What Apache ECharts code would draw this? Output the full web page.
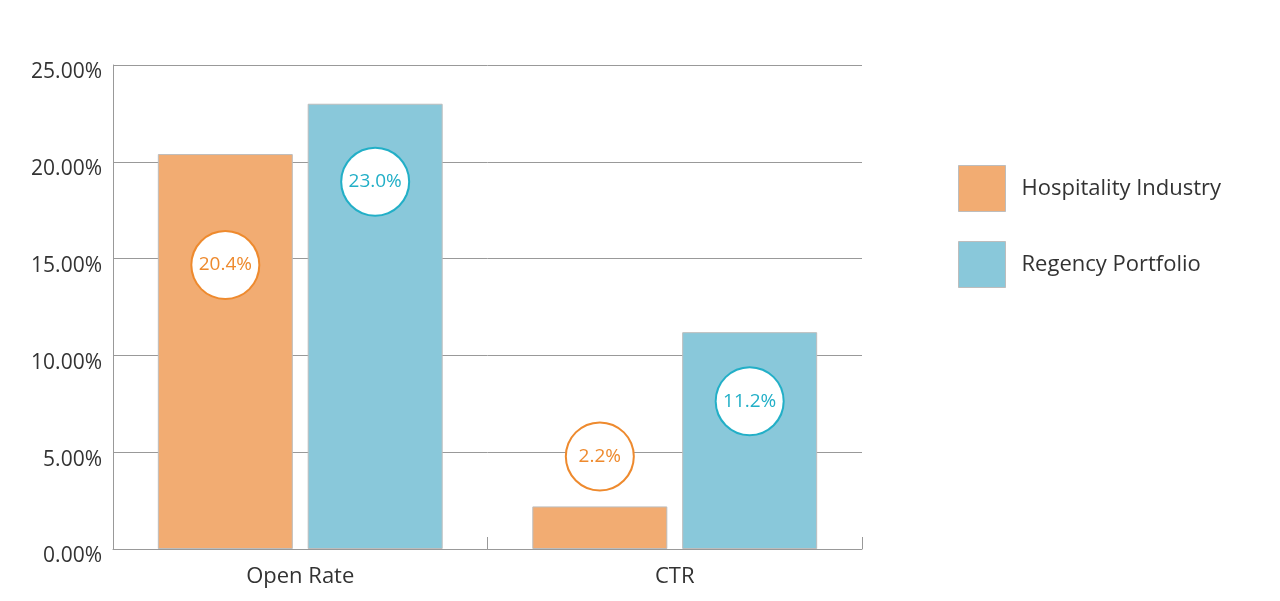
<!DOCTYPE html>
<html><head><meta charset="utf-8">
<script src="https://cdn.jsdelivr.net/npm/echarts@6/dist/echarts.min.js"></script>
<style>html,body{margin:0;padding:0;background:#fff}#c{width:1280px;height:601px}</style>
</head><body><div id="c"></div>
<script>
var categories = ['Open Rate', 'CTR'];
var seriesNames = ['Hospitality Industry', 'Regency Portfolio'];
var hospitality = [20.4, 2.2];
var regency = [23.0, 11.2];
var yTicks = [0, 5, 10, 15, 20, 25];

// label styling (vertical px from bar top to circle centre)
var labelDy = [[111, -50], [78, 69]];
var barColors = ['#F2AC72', '#89C8DA'];
var ringColors = ['#EE8A2E', '#22AFC7'];
var FONT = '"Open Sans", Lato, sans-serif';

function mkSeries(idx, vals) {
  return {
    name: seriesNames[idx], type: 'bar', barWidth: 135, barGap: '11%',
    itemStyle: {color: barColors[idx], borderColor: '#bdbdbd', borderWidth: 1},
    data: vals.map(function (v, i) {
      return {
        value: v,
        label: {
          show: true, position: ['50%', labelDy[idx][i]], align: 'center', verticalAlign: 'middle',
          formatter: function (p) { return p.value.toFixed(1) + '%'; },
          color: ringColors[idx], fontSize: 19, fontFamily: FONT,
          backgroundColor: '#fff', borderColor: ringColors[idx], borderWidth: 2,
          width: 66, height: 66, lineHeight: 66, borderRadius: 35
        }
      };
    })
  };
}

var chart = echarts.init(document.getElementById('c'));
chart.setOption({
  animation: false,
  textStyle: {fontFamily: FONT},
  grid: {left: 113, right: 418, top: 65, bottom: 52},
  legend: {
    orient: 'vertical', left: 958, top: 165, padding: 0,
    itemWidth: 47, itemHeight: 46, itemGap: 29, icon: 'rect',
    itemStyle: {borderColor: '#bdbdbd', borderWidth: 1},
    textStyle: {fontSize: 22, color: '#333', fontFamily: FONT, padding: [4, 0, 0, 11]},
    data: seriesNames
  },
  xAxis: {
    type: 'category', data: categories,
    axisLine: {lineStyle: {color: '#999'}},
    axisTick: {show: true, inside: true, length: 12, lineStyle: {color: '#999'}},
    axisLabel: {fontSize: 22, color: '#333', margin: 17, fontFamily: FONT}
  },
  yAxis: {
    type: 'value', min: yTicks[0], max: yTicks[yTicks.length - 1], interval: 5,
    axisLine: {show: true, lineStyle: {color: '#999'}},
    axisTick: {show: false},
    splitLine: {lineStyle: {color: '#999'}},
    axisLabel: {fontSize: 21, color: '#333', margin: 11, fontFamily: FONT,
      verticalAlign: 'top', lineHeight: 15,
      formatter: function (v) { return v.toFixed(2) + '%'; }}
  },
  series: [mkSeries(0, hospitality), mkSeries(1, regency)]
});
</script></body></html>
